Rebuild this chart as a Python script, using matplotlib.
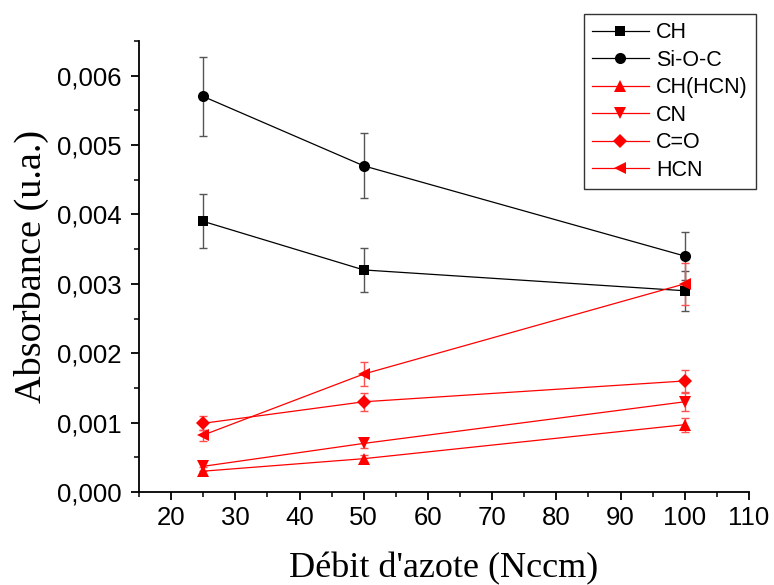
import numpy as np
import matplotlib
matplotlib.use("Agg")
import matplotlib.pyplot as plt
from matplotlib.ticker import FuncFormatter, MultipleLocator

# Nitrogen flow (Nccm)
debit = [25, 50, 100]

# Absorbance values per band
ch = [0.0039, 0.0032, 0.0029]
sioc = [0.0057, 0.0047, 0.0034]
ch_hcn = [0.00030, 0.00048, 0.00097]
cn = [0.00037, 0.00070, 0.00130]
co = [0.00099, 0.00130, 0.00160]
hcn = [0.00082, 0.00170, 0.00300]

# error bars (~10 %)
ch_err = [0.00039, 0.00032, 0.00029]
sioc_err = [0.00057, 0.00047, 0.00034]
ch_hcn_err = [0.00006, 0.00005, 0.00010]
cn_err = [0.00007, 0.00007, 0.00013]
co_err = [0.00010, 0.00013, 0.00016]
hcn_err = [0.00008, 0.00017, 0.00030]

series = [
    ("CH", ch, ch_err, "s", "black", "#555555"),
    ("Si-O-C", sioc, sioc_err, "o", "black", "#555555"),
    ("CH(HCN)", ch_hcn, ch_hcn_err, "^", "red", "#ff5050"),
    ("CN", cn, cn_err, "v", "red", "#ff5050"),
    ("C=O", co, co_err, "D", "red", "#ff5050"),
    ("HCN", hcn, hcn_err, "<", "red", "#ff5050"),
]
sizes = {"s": 7, "o": 8, "^": 9, "v": 9, "D": 7, "<": 9}

plt.rcParams['font.family'] = ['Liberation Sans', 'DejaVu Sans']

fig = plt.figure(figsize=(7.74, 5.85), dpi=100)
ax = fig.add_axes([0.1796, 0.159, 0.7881, 0.771])

handles = []
for name, y, err, mk, col, ecol in series:
    ax.errorbar(debit, y, yerr=err, fmt="none", ecolor=ecol, elinewidth=1,
                capsize=3, capthick=1, zorder=2)
    h, = ax.plot(debit, y, color=col, marker=mk, markersize=sizes[mk], linewidth=0.9,
                 markeredgewidth=0, label=name, zorder=3)
    handles.append(h)

ax.set_xlim(15, 110)
ax.set_ylim(0, 0.0065)
ax.xaxis.set_major_locator(MultipleLocator(10))
ax.xaxis.set_minor_locator(MultipleLocator(5))
ax.yaxis.set_major_locator(MultipleLocator(0.001))
ax.yaxis.set_minor_locator(MultipleLocator(0.0005))
ax.set_xticks(range(20, 111, 10))
ax.yaxis.set_major_formatter(FuncFormatter(lambda v, p: f"{v:.3f}".replace(".", ",")))

for s in ["top", "right"]:
    ax.spines[s].set_visible(False)
for s in ["left", "bottom"]:
    ax.spines[s].set_linewidth(1.3)

ax.tick_params(which="major", direction="out", length=6, width=1.3, labelsize=18.5)
ax.tick_params(which="minor", direction="out", length=3.5, width=1.1)
ax.tick_params(axis="x", which="major", pad=4)
ax.tick_params(axis="y", which="major", pad=6.5)

ax.set_xlabel("Débit d'azote (Nccm)", family="Liberation Serif", fontsize=26, labelpad=16)
ax.set_ylabel("Absorbance (u.a.)", family="Liberation Serif", fontsize=27.5, labelpad=6)

leg = fig.legend(handles=handles, loc="upper right", bbox_to_anchor=(0.977, 0.976),
                 borderaxespad=0, fontsize=15.5, frameon=True, fancybox=False,
                 edgecolor="black", handlelength=2.65, handletextpad=0.35,
                 labelspacing=0.3, borderpad=0.38)
leg.get_frame().set_linewidth(1.0)

fig.savefig("out.png", dpi=100)
